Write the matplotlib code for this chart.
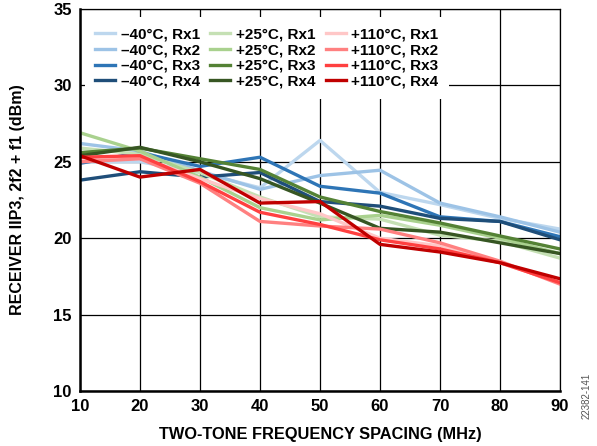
import numpy as np
import matplotlib.pyplot as plt

plt.rcParams['font.family'] = ['Liberation Sans', 'DejaVu Sans']

# 双音频率间隔 (MHz)
spacing = [10, 20, 30, 40, 50, 60, 70, 80, 90]

# -40°C
m40_rx1 = [25.0, 25.0, 24.3, 23.3, 26.4, 23.0, 22.2, 21.3, 20.6]
m40_rx2 = [26.2, 25.7, 24.4, 23.2, 24.1, 24.45, 22.3, 21.4, 20.4]
m40_rx3 = [24.9, 25.6, 24.7, 25.3, 23.4, 22.95, 21.4, 21.1, 20.1]
m40_rx4 = [23.8, 24.35, 24.0, 24.3, 22.4, 22.1, 21.3, 21.1, 19.9]

# +25°C
p25_rx1 = [25.9, 25.5, 24.3, 22.7, 21.4, 21.25, 20.2, 19.8, 18.7]
p25_rx2 = [26.9, 25.7, 24.0, 22.0, 21.2, 21.5, 20.85, 20.0, 19.0]
p25_rx3 = [25.6, 25.9, 25.2, 24.5, 22.7, 21.75, 21.0, 20.15, 19.3]
p25_rx4 = [25.4, 25.95, 25.0, 23.9, 22.3, 20.65, 20.4, 19.7, 19.0]

# +110°C
p110_rx1 = [25.2, 25.3, 23.9, 22.6, 21.6, 20.0, 19.5, 18.4, 17.1]
p110_rx2 = [25.0, 25.2, 23.6, 21.1, 20.8, 20.6, 19.7, 18.5, 17.0]
p110_rx3 = [25.3, 25.4, 23.7, 21.7, 20.9, 19.9, 19.3, 18.4, 17.1]
p110_rx4 = [25.4, 24.0, 24.5, 22.3, 22.4, 19.6, 19.1, 18.4, 17.35]

labels = ['–40°C, Rx1', '–40°C, Rx2', '–40°C, Rx3', '–40°C, Rx4',
          '+25°C, Rx1', '+25°C, Rx2', '+25°C, Rx3', '+25°C, Rx4',
          '+110°C, Rx1', '+110°C, Rx2', '+110°C, Rx3', '+110°C, Rx4']
series = [m40_rx1, m40_rx2, m40_rx3, m40_rx4,
          p25_rx1, p25_rx2, p25_rx3, p25_rx4,
          p110_rx1, p110_rx2, p110_rx3, p110_rx4]
colors = ['#bdd7ee', '#9dc3e6', '#2e75b6', '#1f4e79',
          '#c5e0b4', '#a9d18e', '#548235', '#375623',
          '#ffc7c7', '#ff8080', '#ff4040', '#c00000']

fig = plt.figure(figsize=(5.97, 4.46), dpi=100)
ax = fig.add_axes([0.134, 0.123, 0.804, 0.857])

for y, c, lab in zip(series, colors, labels):
    ax.plot(spacing, y, color=c, linewidth=2.4, label=lab)

ax.set_xlim(10, 90)
ax.set_ylim(10, 35)
ax.set_xticks(np.arange(10, 91, 10))
ax.set_yticks(np.arange(10, 36, 5))
ax.grid(True, color='black', linewidth=0.9)
ax.set_axisbelow(True)
for s in ax.spines.values():
    s.set_color('black')
    s.set_linewidth(0.9)
ax.spines['left'].set_linewidth(1.8)
ax.spines['bottom'].set_linewidth(1.8)
ax.tick_params(length=0, pad=6, labelsize=12)
for t in ax.get_xticklabels() + ax.get_yticklabels():
    t.set_fontweight('bold')

ax.set_xlabel('TWO-TONE FREQUENCY SPACING (MHz)', fontsize=11.8, fontweight='bold', labelpad=9)
ax.set_ylabel('RECEIVER IIP3, 2f2 + f1 (dBm)', fontsize=11.5, fontweight='bold', labelpad=20)

leg = ax.legend(ncol=3, loc='upper left', bbox_to_anchor=(-0.006, 1.0),
                frameon=True, facecolor='white', edgecolor='none',
                framealpha=1, fancybox=False, handlelength=1.3, handletextpad=0.35,
                columnspacing=0.7, labelspacing=0.12, borderpad=0.7,
                prop={'weight': 'bold', 'size': 11})
leg.set_zorder(5)

fig.text(0.982, 0.06, '22382-141', rotation=90, fontsize=7, color='#555555',
         ha='center', va='bottom')

plt.savefig('out.png', dpi=100)
